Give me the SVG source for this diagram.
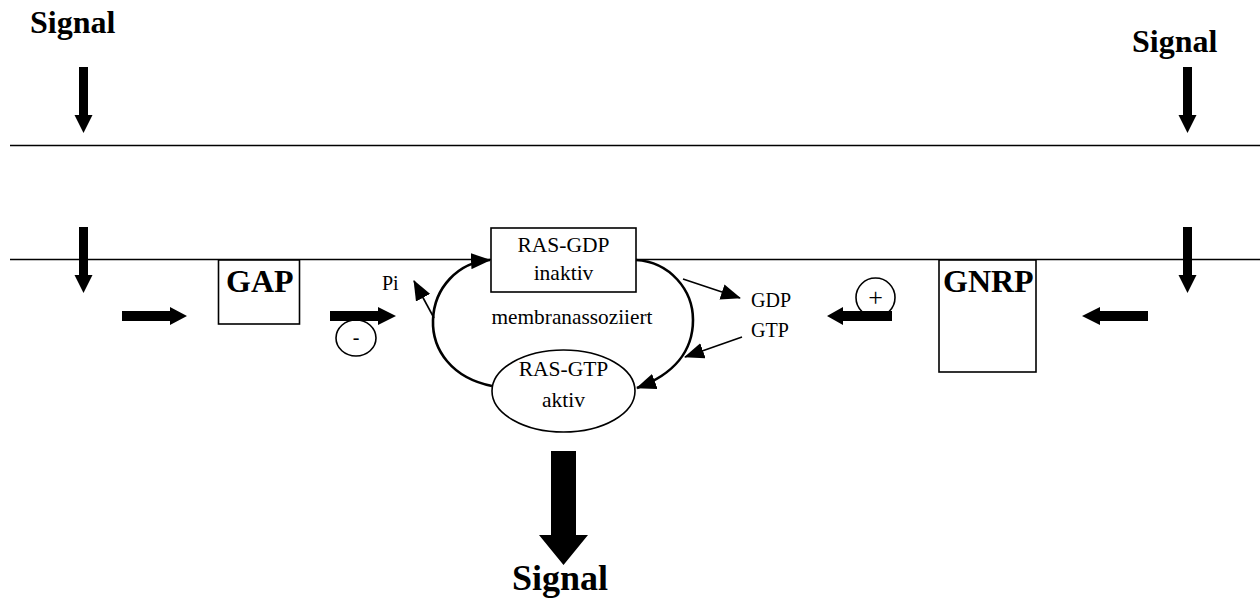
<svg xmlns="http://www.w3.org/2000/svg" width="1260" height="599" viewBox="0 0 1260 599">
  <defs>
    <style>
      text { font-family: "Liberation Serif", "Times New Roman", serif; fill: #000; }
      .big { font-size: 32px; font-weight: bold; }
      .lbl { font-size: 21.5px; }
      .sm { font-size: 20px; }
      .box { fill: #fff; stroke: #000; stroke-width: 1.6; }
      .membrane { stroke: #000; stroke-width: 1.6; fill: none; }
      .block { fill: #000; stroke: none; }
      .cycle { fill: none; stroke: #000; stroke-width: 2.6; marker-end: url(#head); }
      .thin { fill: none; stroke: #000; stroke-width: 1.6; marker-end: url(#head); }
    </style>
    <marker id="head" markerUnits="userSpaceOnUse" markerWidth="20" markerHeight="16" refX="19" refY="8" orient="auto">
      <path d="M0,0 L20,8 L0,16 z" fill="#000"/>
    </marker>
  </defs>
  <rect width="1260" height="599" fill="#fff"/>

  <!-- membrane lines -->
  <g id="membranes">
    <line class="membrane" x1="10" y1="145.5" x2="1260" y2="145.5"/>
    <line class="membrane" x1="10" y1="259.5" x2="1260" y2="259.5"/>
  </g>

  <!-- incoming signals -->
  <g id="signal-left">
    <text class="big" x="30" y="33">Signal</text>
  </g>
  <g id="signal-right">
    <text class="big" x="1132" y="52">Signal</text>
  </g>

  <!-- nodes -->
  <g id="gap">
    <rect class="box" x="218.5" y="260" width="81" height="64"/>
    <text class="big" x="226" y="292">GAP</text>
  </g>
  <g id="gnrp">
    <rect class="box" x="939" y="260" width="97" height="112"/>
    <text class="big" x="943" y="292">GNRP</text>
  </g>
  <g id="ras-gdp">
    <rect class="box" x="491" y="228" width="145" height="64"/>
    <text class="lbl" x="563.5" y="252" text-anchor="middle">RAS-GDP</text>
    <text class="lbl" x="563.5" y="280" text-anchor="middle">inaktiv</text>
  </g>
  <g id="ras-gtp">
    <ellipse class="box" cx="563.5" cy="391" rx="71.5" ry="41"/>
    <text class="lbl" x="563.5" y="376" text-anchor="middle">RAS-GTP</text>
    <text class="lbl" x="563.5" y="407" text-anchor="middle">aktiv</text>
  </g>
  <g id="membrane-label">
    <text class="lbl" x="572" y="324" text-anchor="middle" textLength="161" lengthAdjust="spacingAndGlyphs">membranassoziiert</text>
  </g>
  <g id="pi">
    <text class="sm" x="382" y="290">Pi</text>
  </g>
  <g id="gdp">
    <text class="sm" x="751" y="306.5">GDP</text>
  </g>
  <g id="gtp">
    <text class="sm" x="751" y="336.5">GTP</text>
  </g>
  <g id="inhibit">
    <ellipse cx="356" cy="338" rx="20" ry="18" fill="#fff" stroke="#000" stroke-width="1.6"/>
    <text class="sm" x="356" y="344" text-anchor="middle">-</text>
  </g>
  <g id="activate">
    <circle cx="875.5" cy="297.5" r="19.5" fill="#fff" stroke="#000" stroke-width="1.6"/>
    <text x="875.5" y="305.5" text-anchor="middle" style="font-size:26px">+</text>
  </g>
  <g id="signal-out">
    <text class="big" x="560" y="590" text-anchor="middle" style="font-size:36px">Signal</text>
  </g>

  <!-- connectors -->
  <g id="connectors">
    <!-- vertical signal arrows through the membranes -->
    <polygon class="block" points="79,67 88,67 88,115 92.5,115 83.5,133 74.5,115 79,115"/>
    <polygon class="block" points="79,227 88,227 88,275 92.5,275 83.5,293 74.5,275 79,275"/>
    <polygon class="block" points="1183,67 1192,67 1192,115 1196.5,115 1187.5,133 1178.5,115 1183,115"/>
    <polygon class="block" points="1183,227 1192,227 1192,275 1196.5,275 1187.5,293 1178.5,275 1183,275"/>

    <!-- horizontal block arrows -->
    <polygon class="block" points="122,311 170,311 170,307 187,316 170,325 170,321 122,321"/>
    <polygon class="block" points="330,311 378,311 378,307 396,316 378,325 378,321 330,321"/>
    <polygon class="block" points="892,311 843,311 843,307 827,316 843,325 843,321 892,321"/>
    <polygon class="block" points="1148,311 1100,311 1100,307 1082,316 1100,325 1100,321 1148,321"/>

    <!-- outgoing signal -->
    <polygon class="block" points="551,451 576,451 576,535 588,535 563.5,565 539,535 551,535"/>

    <!-- GTPase cycle -->
    <path class="cycle" d="M492,386 C452,378 432,350 433,320 C434,288 458,262 490,260"/>
    <path class="cycle" d="M636,260 C670,262 693,290 693,320 C693,350 675,374 637,388"/>

    <!-- nucleotide exchange and phosphate release -->
    <path class="thin" d="M683,279 L740,298"/>
    <path class="thin" d="M742,337 L685,357"/>
    <path class="thin" d="M434,318 L414,281"/>
  </g>
</svg>
